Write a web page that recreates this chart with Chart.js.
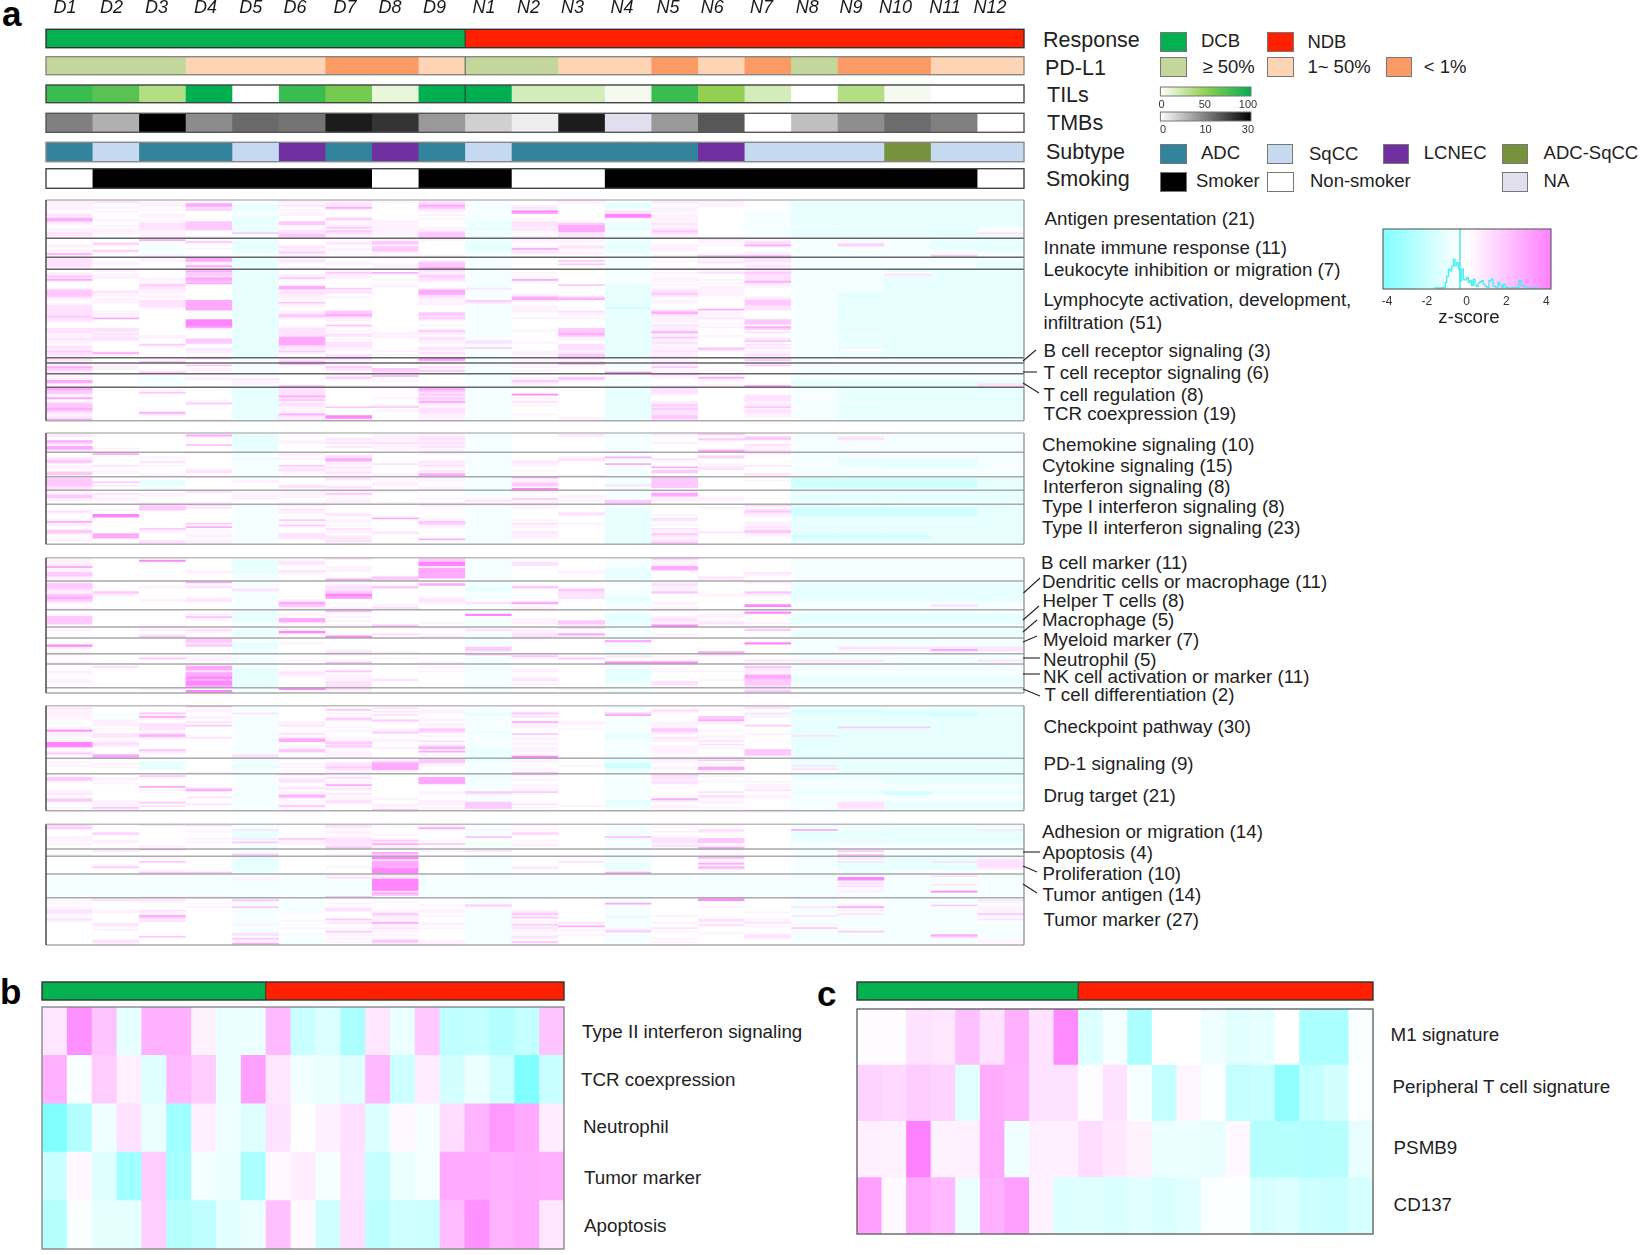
<!DOCTYPE html>
<html><head><meta charset="utf-8">
<style>
html,body{margin:0;padding:0;background:#fff;width:1640px;height:1255px;overflow:hidden}
#stage{position:relative;width:1640px;height:1255px;font-family:"Liberation Sans",Arial,sans-serif;color:#222}
#stage canvas{position:absolute}
.t{position:absolute;white-space:nowrap;transform:translateY(-50%);line-height:1}
.sw{position:absolute;box-sizing:border-box;border:1.5px solid #777}
svg{position:absolute;left:0;top:0;pointer-events:none}
</style>
<script src="https://cdn.jsdelivr.net/npm/chart.js@4"></script>
</head><body><div id="stage"></div>
<script>
// ---------- categories ----------
const sampleNames=["D1","D2","D3","D4","D5","D6","D7","D8","D9","N1","N2","N3","N4","N5","N6","N7","N8","N9","N10","N11","N12"];
const responseValues=["DCB","DCB","DCB","DCB","DCB","DCB","DCB","DCB","DCB","NDB","NDB","NDB","NDB","NDB","NDB","NDB","NDB","NDB","NDB","NDB","NDB"];
const pdl1Values=["high","high","high","mid","mid","mid","low","low","mid","high","high","mid","mid","low","mid","low","high","low","low","mid","mid"];
const tilValues=[80,70,35,100,0,80,60,10,100,100,20,20,5,80,50,20,0,35,5,0,0];
const tmbValues=[10,6.2,30,9,13.4,11.8,25.6,21.8,8,3.7,1.3,25.6,null,8,16.2,0,5,8.9,13,10,0];
const subtypeValues=["ADC","SqCC","ADC","ADC","SqCC","LCNEC","ADC","LCNEC","ADC","SqCC","ADC","ADC","ADC","ADC","LCNEC","SqCC","SqCC","SqCC","ADC-SqCC","SqCC","SqCC"];
const smokingValues=["Non","Smoker","Smoker","Smoker","Smoker","Smoker","Smoker","Non","Smoker","Smoker","Non","Non","Smoker","Smoker","Smoker","Smoker","Smoker","Smoker","Smoker","Smoker","Non"];

// ---------- panel a: z-score levels per gene row (D1..D9 N1..N12) ----------
const antigenPresentation=["2211a2202 a12a121aaaaa","1211a1112 a01a210bbbbb","1014a1203 a00b010bbbbb","1014b2104 a10b010bbbbb","1102b0403 a20b100bbbbb","1013b1102 a10a100bbbbb","0100a0001 a50210abbbbb","1000a1000 a40200abbbbb","2010a1001 a00510abbbbb","1010b0000 a00510abbbbb","4000b0301 a10110abbbbb","4110b0210 a00a10abbbbb","2013b3010 b21a10abbbbb","1023b3110 b23b20abbbbb","0123a1110 a24a10abbbbb","0023b0311 b14b10aabbba","1123b1111 b24b20abbbba","1110b2312 a14a30abbbba","211032213 b01a20abbbb2","2010a3113 a02a10abbbb1","1011a3103 b12b10abbbbb"];
const innateImmune=["0100a0111 a20a030aaaaa","0040a0011 a11a011aaabb","00a3b0130 b11b012aaabb","03a1b0230 b00b002a2abb","11a0b1010 b01b114a3abb","10a0b2030 b12b101aaabb","00a1b1130 b41b100aaabb","13a0b1130 b10b100aaaab","11a0b3010 a21b001aaaaa","40a0a1100 a11a001aaaaa","1011a1011 a00a133aaa3a"];
const leukocyteInhibition=["1014b1000 a00a013aaaaa","2014b1000 a00a012aaaaa","2014b2001 a03a112aaaaa","2101b1103 a00a021aaaab","2101b0113 a03a001aaaab","2004b0013 a00a002aaaab","1002b1014 a00a111aaaab"];
const lymphocyteActivation=["0102b0102 a00a102aabbb","0104b0102 a00a012aabbb","1003b0341 a10a123aaabb","2103b1102 a00a002aa2bb","3102b1103 a00a002aa1bb","2114b3102 a10a102aabbb","4014b1012 a40a112aabbb","1003b0001 a10a104aabbb","0014b0000 a00a012aabbb","0030b1010 a03b101aabbb","0020b4010 a00b011aabbb","1020b4301 200b110aabbb","3110b1104 a00b210aabbb","3210b2204 a00b210abbbb","3100b2104 a10b310abbbb","3110b1002 a10b210abbbb","2010b1102 a43b101abbbb","1100b1001 a44b002abbbb","0124b0001 310b103abbbb","0124b3001 200b103abbbb","1024b1001 a00b003abbbb","2024b1000 a10b002abbbb","2014b0000 a10c002abbbb","2004b0000 a10b142abbbb","2100b1300 a12b300abbbb","2100b1303 a01b410abbbb","2100b3403 a01b210abbbb","3000b3302 a00b110abbbb","2400b1103 a11b120abbbb","2005b0101 a00b103abbbb","1005b0000 a00b103abbbb","0005b0000 a00b013abbbb","0005b0301 a00b200abbbb","0004b1100 a00b114abbbb","2201b2000 a03b103abbbb","2200b2103 a13b200abbbb","2100b2012 a03b402abbbb","1200b2211 a04b100abbbb","1110b2210 a03b110aabbb","1210b4012 a01b301abbbb","2203b4102 a01b102abbbb","1103b4001 200b103abbbb","1003b4201 210b200abbbb","0030b4200 a02b102abbbb","2010b2201 a02b101abbbb","2001b2102 302b132a1bbb","1002b1102 a02b130a0bbb","3101b3010 a11b201abbbb","2401b1002 a12b101abbbb","2100b0211 a13b102aabbb","1001b1201 a03b201abbbb"];
const bCellReceptor=["1013a1305 a03a011aaaaa","2010a2104 a10a103aaaaa","1030a3101 a12a201aaaaa"];
const tCellReceptor=["1010a4000 a04a110aaaaa","1103a1101 a11a103aaaaa","4100a0302 a10a300aaaaa","3101a0231 a00a100aaaaa","2011a0133 a10a110aaaaa","1030a0021 a005100aaaaa"];
const tCellRegulation=["1001a0100 a00a310aaaaa","10a0a0140 a00a100aaaaa","10a1a0300 a13a140aaaaa","10a120100 a13a010aaaaa","40a010010 a31a010bbbbb","40a010000 a20a000bbbbb","10a010000 a00a010bbbb2","1000a3110 a10a114bbbb2"];
const tcrCoexpression=["4000b2014 a00b200abbbb","4000b2004 a00b200abbbb","3010b2003 a00b200abbbb","3030b2002 a00b200abbbb","1000b2003 a50b101abbbb","1000b4002 a00b002abbbb","4000b2013 a10b002abbbb","0000b3002 a00b002aabbb","1001b1004 a20b101abbbb","3003b2002 a00b201abbbb","3000b2011 a10b302abbbb","3000b1331 a00b203abbbb","4000b1002 a00b301abbbb","3000b1012 a00b202abbbb","2040b1002 a00b202abbbb","1020b4001 a10b201abbbb","1000b2501 a00b301abbbb","2000b1501 a01b300abbbb","4001b2101 a01b200abbbb"];
const chemokine=["1001b0001 a01a141aaaaa","1004b0011 a02a110aaaaa","1001b0012 a00a003a2aaa","0000b0212 a00a033a2aaa","4000b1111 a00a010aaaaa","3000b1222 a00a100aaaaa","1003b0011 a00a002aaaaa","4000b0212 a00a001aaaaa","4100b0011 a00a011aaaaa","1000b0001 a00a042aaaaa"];
const cytokine=["0003b0000 a00a003aaaaa","0400a1001 a00a001aaaaa","0000a1200 a00a020aaaaa","1010a0200 a014030aaaaa","2000b1400 a02a200abbba","3010a0401 a12a100abbba","3020a0102 a20a000abbba","0000a0121 a104010abbba","1210a3002 a10a002abbba","1000a1201 a00a420aabba","0001a2100 a00a020aaaaa","0102a2102 a10a300aaaaa","3102a1201 a00a300aaaaa","3010a0114 a00a002aaaaa","1010a0014 a02a001aaaaa"];
const interferon=["1001a0101 a40a300bbbbb","3000a0211 a10a300ccccb","30b010101 a10a301ccccb","33b010010 a20a300ccccb","30b000010 a30b300ccccb","32b002110 a302300ccccb","20a002201 a10a300ccccb","20a000101 a50a000bbbbb"];
const typeOneInterferon=["0011a1000 a20a100bbbbb","1002a1110 a10a200bbbbb","121011300 a00a400bbbbb","301011100 a01a400bbbbb","310011000 001a110bbbbb","110010101 130a110bbbbb","11a000100 2113110bbbbb","001101111 a103000bbbbb"];
const typeTwoInterferon=["0004a1000 a00a0023bbbb","0031a1001 110a002bbbbb","0032a0000 a10a010ccccb","0130a2000 a00b002ccccb","2000a1000 a00b003ccccb","1000a1100 a02b002ccccb","0500a0200 a02b101ccccb","0500a0000 a00b001bbbbb","0000a0041 a00b200bbbbb","1000a3101 a10b200bbbbb","4000a1103 a00b001bbbbb","1003a0003 a21b001bbbbb","1000a3101 a10b101bbbbb","0004a1001 a10b002bbbbb","0030a0200 a00b201bbbbb","3011a0100 a00b103bbbbb","3010a0120 a20b123bbbbb","1401a2010 a10b301bbbbb","0401a2100 a10b201cccbb","0401a2200 a10b100cccbb","1000a1104 a00b100bbbbb","1021a0201 a00b200bbbbb","0021a0100 a00b300bbbbb"];
const bCellMarker=["1000a0203 a00a300aaaaa","1050b1003 a00a100aaaaa","1000b2005 a20a100aaaaa","1000b1005 a20a100aaaaa","4000b0102 a00a400aaaaa","1000b0104 a00b400aaaaa","1001b2104 a01b100aaaaa","3001b1004 a01b002aaaaa","3000a0004 a00b001aaaaa","1000a0034 a00b020aaaaa","1000a0430 a00a010aaaaa"];
const dendriticMacrophage=["1004a0000 a00a102aaaaa","3000a0104 a00a200bbbbb","3012a0230 b30a100bbbbb","200020200 b03a100bbbbb","1300a0300 a02a303bbbbb","3100a0500 a02a011bbbbb","4001a0401 a02b000bbbbb","3012a1002 a00b000bbbbb","1000a4001 240a100aaaaa","0000a3010 a00a005aaa2a","1000a1120 a10a100aaaaa"];
const helperT=["0000a0400 a10a102aaaaa","0000b0100 a00a005aaaaa","1001b1000 500b010bbbbb","3003b0100 a00b110bbbbb","3001b4000 a10b200bbbbb","3000b4100 a13b210bbbbb","3000a1001 a13b121bbbbb","0010a0130 a01a500aaaaa"];
const macrophage=["0010a0001 a03a000aaaaa","1012a1000 210a003aaaaa","0001b5000 a10a000bbbbb","0010b1021 a24a100bbbbb","0030a0501 a21a000aaaaa"];
const myeloidMarker=["0003a0000 a00a000aaaaa","0003a0000 a004000aaaaa","0002b1000 a00a005aaaaa","5003b0000 a00a000aaaaa","1000b0000 300a000a2222","0000a0100 300a000a1142","1000a0210 a00a040aaaaa"];
const neutrophilRows=["1000a0100 320a020aaaaa","0001a0000 a302100aaaaa","0031a0010 a03a000aaaaa","0001a1000 a00a10222aa2","1000a0301 a005500aaaaa"];
const nkCell=["0001a0000 a00a000aaaaa","0204a0001 a00a003aaaaa","0004b0000 a10b002aaaaa","1002b1301 a10b111aaaaa","1004b2000 a00b001aaaaa","0004b1100 a00b004aaaaa","0005b0100 a10b004bbbbb","1004b0120 a20b013bbbbb","1005b0200 a00b203bbbbb","0005b0200 a10a203aaaaa","0004b0200 a00a002aaaaa"];
const tCellDifferentiation=["0010a5200 a01a001aaaaa","0005a0100 a00a003aaaaa"];
const checkpointPathway=["0004a0000 a10a012bbbbb","2000a0020 a00a002bbbbb","1001a0301 a00a210bbbbb","1001a0021 a10a200ccbbb","1a3020101 b303002bbccb","1a10a0020 b10400bbbbcb","1a41a0100 a20a031bbbbb","1011a0301 a00a030bbbbb","0100a0231 a00a040bbbbb","0102a1010 a41a110bbbbb","0120a1001 a11a110bbbbb","0123a2001 a10a103bbbbb","1020a0100 a10a100b33bb","1120a0013 a01a300bbbbb","5010a0113 a00a310bbbbb","1000a1032 b00a200bbbbb","1230a2010 a30b101bbbbb","1240a0001 a00b0102bbbb","0122a2100 a10b210bbbbb","1000a4010 a10a100bbbbb","1100a4212 a00a120bbbbb","5200a0300 a10a000bbbbb","5200a0201 a10a020bbbbb","5100a1303 a00a100bbbbb","1000a1114 a10a110bbbbb","0030a3001 b10a103bbbbb","1020a3104 b10a103bbbbb","3010a0100 b00a103bbbbb","140020101 a10a003bbbbb","040020100 b50a110bbbbb"];
const pd1Signaling=["1000a2003 b00b200bbbbb","0000b0013 b10b130bbbbb","10b0a0133 a10b100bbbbb","01b0a1241 a00c010bbbbb","10b0b0241 a01c0002bbbb","01b0b1340 a00c140bbbbb","00b0a0240 a10b1402bbbb","0000a1110 a00b010abbbb","0001a0100 a30a000abbbb"];
const drugTarget=["0000a3000 b30a300bbbbb","0030a0100 b00a210bbbbb","3100a1204 a00a200bbbbb","3100a2004 a10a100aabbb","1000a2104 a00a211aabbb","0100a0104 a00a200aabbb","0000a0400 a10a001aaaaa","0040a1000 a00a001aaaaa","0003a2200 a10a001aaaaa","1014a0100 a10a002aaaaa","1000a1001 330a020bbcbb","2000a1201 200a000bbcbb","0000a4000 a00a021aaaaa","0002a3100 a00a021aaaaa","3000a0110 a00a400aaaaa","3100a1201 a00b210aaaaa","0130a0201 300b010a2bbb","0102a1011 320b000a2bbb","0120a3010 301b100a2bbb","1300a1001 310a110a2bbb","0100a0031 a00a001aaaaa"];
const adhesionMigration=["3033a0200 a00a010aaaaa","2001a0211 a10a100bbbbb","3000a0104 a00a000aaaaa","100020001 110a0204abb2","0001b0100 a00a120bbbbb","0300b0100 a30a000bbbbb","0100b0010 a10a000bbbbb","1000b0100 3003100bbbbb","100123210 a00b230bbbbb","1100a1231 a10a230bbbbb","010131210 a00a230a1bbb","1000a1143 a10a100aaaaa","0010a0210 a10a210aaaaa","0010a0310 a00a040aaaaa"];
const apoptosisRows=["0040a0000 a00a030aaaaa","0200a0001 200a000a3aaa","0000a0040 a00a000a0aaa","100030130 a00a000a3aaa"];
const proliferation=["0000b0050 a00a040abbbb","0010b0050 a00a030a2bb1","0000b0020 a00a000abbb2","0030b0040 a02a010a2b22","0000b0040 a00b040abbb2","0100b0040 a00b010abbb2","0300b0140 a20b040abbb2","0000b0050 a10b020abbb1","0010b0050 a00a000aaaa0","0033a0050 a004000aaaaa"];
const tumorAntigen=["aaaaaaaaa aaaaaaaaaaaa","aaaaaa12a aaaaaaaaaa2a","aaaa1a22a aaaaaaaa5aaa","aaaa1aa5a aaaaaaaa5aaa","aaaaaaa5a aaaaaaaa1aaa","aaaaaaa5a aaaaaaaa2aaa","aaaaaaa5a aaaaaaaa1a2a","aaaaaaa5a aaaaaaaa2aaa","aaaaaaa5a aaaaaaaaaaaa","aaaaaaa5a aaaaaaaa1aaa","aaaaaaa2a aaaaaaaa1a5a","aaaaaaa4a aaaaaaaaaaaa","aaaaaaa3a aaaaaaaaaaaa","aa11aa3aa aaaaaaaaaaaa"];
const tumorMarkerRows=["0110b0000 a00a04010aaa","12203a000 a00a050a0aa2","00101a010 a00a000a0aa1","1001aa100 a004000aaaaa","0000aa001 300a000a1a3a","10013a100 100a01024a01","1000aa200 a00a000a1aa1","2120aa211 a10a000a1aa1","2110aa011 a20a001a0aa1","1010a0030 a30a000a2aa3","0040a0021 a10b1002aaa1","1030a0010 a301000aaaaa","2010a0310 a00a021aaaa2","1020a1110 a10a021aaaaa","0100a0241 a02a102aaaa0","02001a011 a30a0201aaaa","0100a0010 a14a011aaaaa","0000a1121 a20a2003aaaa","0100a0010 a112000aaaaa","0000a0310 a103100a3aaa","00002a100 a00a010aaaaa","00002a110 a11a002aaa4a","0030a0000 a20a002aaa3a","00003a110 a10a101aaaaa","02001a031 a00a000aaaa1","02001a131 a30a100aaaa1","01004a011 a10a000aaaa0"];

// ---------- panels b and c: z-scores ----------
const panelBLabels=["Type II interferon signaling","TCR coexpression","Neutrophil","Tumor marker","Apoptosis"];
const panelBType2=[.8,3.5,1.9,-.8,2.5,2.5,.4,-.6,-.6,2.2,-1.7,-1.1,-2.6,.8,-.6,1.7,-2,-1.9,-2.4,-1.9,1.9];
const panelBTcr=[2.5,-.2,1.6,.5,-1,2.2,1.6,-.6,3,.8,-.4,-.6,-1,2.2,-1.6,.6,-1.4,-.6,-1.5,-4,-1.7];
const panelBNeutrophil=[-4,-2.4,-.5,.9,-.6,-3,.5,-.5,-1,.9,0,.5,1,-1.1,.2,-.3,1.1,2.4,3.2,2.7,.6];
const panelBTumor=[-1.7,.2,-1,-3,1.6,-2.8,-.4,-.6,-2.6,.2,.6,-.3,.9,-1.9,-.6,-.3,2.7,2.7,2.5,2.6,2.5];
const panelBApoptosis=[-2.3,-.2,-.8,-.8,1.5,-2.3,-2,-.9,-.6,2,.2,-1.5,1,-2.1,-1.5,-1.6,2.1,3.5,2.4,2.7,.8];
const panelCLabels=["M1 signature","Peripheral T cell signature","PSMB9","CD137"];
const panelCM1=[.1,.1,.9,.8,2,.9,2.5,.9,3.7,-1.1,-.3,-2.6,0,0,-.5,-.9,-.8,0,-2.6,-2.6,-.2];
const panelCPeripheral=[1.4,1.2,1.6,1.4,-.9,2.6,2.4,.9,.9,.1,.9,-.3,-1.9,.3,-.1,-1.9,-1.7,-3.5,-1.9,-1.4,-.1];
const panelCPsmb9=[.5,.4,4,.4,.5,2.7,-.5,.5,.5,1.1,.7,.4,-.6,-.6,-.7,.2,-2.3,-2.3,-2.4,-2.3,-.7];
const panelCCd137=[3,.2,2.7,2.2,-.6,2.5,3,.4,-1.1,-1,-1.2,-.9,-1.2,-.9,-.1,-.1,-1.3,-1.1,-1.6,-1.7,-1.3];

// ---------- z-score key histogram ----------
const histZ=[-1.62,-1.32,-1.2,-1.09,-1.04,-.96,-.87,-.79,-.7,-.62,-.54,-.45,-.37,-.29,-.2,-.12,-.04,.05,.13,.21,.29,.38,.46,.54,.63,.71,.8,.88,.96,1.05,1.2,1.29,1.37,1.54,1.62,1.71,1.79,1.9,2,2.12,2.37,2.54,2.7,2.78,2.87,3.04,3.54,3.7];
const histCount=[3,3,4,5,20,38,60,55,70,90,70,80,60,25,60,30,28,35,20,25,10,30,12,8,18,22,25,15,8,5,25,30,8,5,20,12,6,14,5,3,4,5,25,10,8,3,3,3];
const zMarker=-0.335;
const zTicks=[-4,-2,0,2,4];
const tilTicks=[0,50,100];
const tmbTickLabels=["0","10","30"];

// ---------- styling and layout (separate from the data) ----------
const levelZ={c:-1.5,b:-.75,a:-.3,"0":0,"1":.4,"2":.9,"3":1.7,"4":2.7,"5":3.8};
const decode=rows=>rows.map(r=>{const s=[...r.replace(/ /g,"")];return sampleNames.map((_,i)=>levelZ[s[i]]??0);});
const hex2=v=>Math.round(Math.max(0,Math.min(255,v)));
function zColor(z){const t=Math.min(1,Math.abs(z)/4),g=hex2(255-127*t);return z>=0?`rgb(255,${g},255)`:`rgb(${g},255,255)`;}
const responseColor={DCB:"#05b050",NDB:"#ff2000"};
const pdl1Color={high:"#c4d79b",mid:"#fdd5b4",low:"#fc9a66"};
const subtypeColor={ADC:"#31849b","SqCC":"#c5d9f1",LCNEC:"#7030a0","ADC-SqCC":"#76923c"};
const smokingColor={Smoker:"#000",Non:"#fff"};
function mix(a,b,t){return `rgb(${a.map((v,i)=>hex2(v+(b[i]-v)*t)).join(",")})`;}
function tilColor(v){return v<=50?mix([255,255,255],[146,208,80],v/50):mix([146,208,80],[0,176,80],(v-50)/50);}
function tmbColor(v){if(v===null)return "#e1dfee";const g=v<=10?255-127.5*v/10:127.5*(1-(v-10)/20);return `rgb(${hex2(g)},${hex2(g)},${hex2(g)})`;}

const stage=document.getElementById("stage");
Chart.defaults.font.family='"Liberation Sans",Arial,sans-serif';
Chart.defaults.animation=false;
function addCanvas(x,y,w,h){const c=document.createElement("canvas");c.width=w;c.height=h;c.style.cssText=`left:${x}px;top:${y}px;width:${w}px;height:${h}px`;stage.appendChild(c);return c;}
const basePlugins={legend:{display:false},tooltip:{enabled:false},title:{display:false}};
const noAxisPad=s=>{s.paddingLeft=0;s.paddingRight=0;s.paddingTop=0;s.paddingBottom=0;};

function heat(x,y0,w,y1,matrix,colorFn,soft){
  const top=Math.round(y0),h=Math.max(1,Math.round(y1)-top),left=Math.round(x),wd=Math.round(w);
  const bleed=1.2*sampleNames.length/wd, rowH=h/matrix.length;
  const c=addCanvas(left,top,wd,h);
  if(soft)c.style.filter="blur(0.35px)";
  new Chart(c,{type:"bar",data:{labels:matrix.map((_,i)=>String(i)),datasets:sampleNames.map((n,col)=>({label:n,
      data:matrix.map(()=>[col,col+1+bleed]),backgroundColor:matrix.map(r=>colorFn(r[col])),borderWidth:0,
      barPercentage:(rowH+0.8)/rowH,categoryPercentage:1,grouped:false,order:-col}))},
    options:{indexAxis:"y",responsive:false,animation:false,events:[],layout:{padding:0},plugins:basePlugins,
      scales:{x:{type:"linear",min:0,max:sampleNames.length,display:false},y:{type:"category",display:false}}}});
}

// column labels drawn by a real axis
const labelPx=[65,111.4,156.5,205.6,250.7,295,345,390,434.4,484,528.6,572.4,622,668,712.3,761.4,807.2,851,895.4,945,990];
const MAIN_X=46,MAIN_W=978;
new Chart(addCanvas(MAIN_X,0,MAIN_W,24),{type:"bar",data:{labels:[],datasets:[]},options:{responsive:false,animation:false,events:[],layout:{padding:0},plugins:basePlugins,
  scales:{y:{display:false},x:{type:"linear",offset:false,position:"top",min:0,max:MAIN_W,grid:{display:false,drawTicks:false},border:{display:false},
    afterBuildTicks:s=>{s.ticks=labelPx.map(p=>({value:p-MAIN_X}));},
    afterFit:s=>{s.height=19;noAxisPad(s);},
    ticks:{autoSkip:false,maxRotation:0,padding:0,font:{size:18,style:"italic"},color:"#1a1a1a",callback:(v,i)=>sampleNames[i]}}}}});

// annotation tracks
const tracks=[[29.3,47.7,responseValues,v=>responseColor[v],"#333"],[56.7,74.7,pdl1Values,v=>pdl1Color[v],"#888"],[85,102.7,tilValues,tilColor,"#444"],[113.3,132.3,tmbValues,tmbColor,"#555"],[142.3,161.7,subtypeValues,v=>subtypeColor[v],"#888"],[168.7,188.3,smokingValues,v=>smokingColor[v],"#444"]];
tracks.forEach(t=>heat(MAIN_X,t[0],MAIN_W,t[1],[t[2]],t[3]));

// main heat map blocks
const blocks=[
 {edges:[200,238.3,257.3,269.3,357.7,363,373.7,387.3,420.7],sets:[antigenPresentation,innateImmune,leukocyteInhibition,lymphocyteActivation,bCellReceptor,tCellReceptor,tCellRegulation,tcrCoexpression],line:"#666"},
 {edges:[433,452.3,476.7,490.3,504.3,544.3],sets:[chemokine,cytokine,interferon,typeOneInterferon,typeTwoInterferon],line:"#aaa"},
 {edges:[557.7,581,609.7,627,638,653.7,664,687.7,693],sets:[bCellMarker,dendriticMacrophage,helperT,macrophage,myeloidMarker,neutrophilRows,nkCell,tCellDifferentiation],line:"#aaa"},
 {edges:[705.7,758.3,773.7,810.7],sets:[checkpointPathway,pd1Signaling,drugTarget],line:"#aaa"},
 {edges:[824.3,849,856.3,874,897.7,945],sets:[adhesionMigration,apoptosisRows,proliferation,tumorAntigen,tumorMarkerRows],line:"#aaa"}];
blocks.forEach(b=>b.sets.forEach((rows,i)=>heat(MAIN_X,b.edges[i],MAIN_W,b.edges[i+1],decode(rows),zColor,true)));

// panels b, c
const BX=42,BW=522,CX=857,CW=516;
heat(BX,982,BW,1000,[responseValues],v=>responseColor[v]);
heat(BX,1007,BW,1249,[panelBType2,panelBTcr,panelBNeutrophil,panelBTumor,panelBApoptosis],zColor);
heat(CX,982,CW,1000,[responseValues],v=>responseColor[v]);
heat(CX,1009,CW,1234,[panelCM1,panelCPeripheral,panelCPsmb9,panelCCd137],zColor);

// colour bars
function colorBar(ax0,ax1,ticks,labels,barL,barR,y,h,stops){
  const padL=12,padR=16,W=Math.round(barR-barL)+padL+padR,unit=(ax1-ax0)/(ticks[ticks.length-1]-ticks[0]);
  const min=ticks[0]-(ax0-barL)/unit,max=ticks[ticks.length-1]+(barR-ax1)/unit;
  new Chart(addCanvas(Math.round(barL)-padL,Math.round(y),W,Math.round(h)+15),{type:"bar",
    data:{labels:["k"],datasets:[{data:[[min,max]],borderWidth:0,barPercentage:1,categoryPercentage:1,
      backgroundColor:ctx=>{const a=ctx.chart.chartArea;if(!a)return "#fff";const g=ctx.chart.ctx.createLinearGradient(a.left,0,a.right,0);stops.forEach(s=>g.addColorStop(s[0],s[1]));return g;}}]},
    options:{indexAxis:"y",responsive:false,animation:false,events:[],layout:{padding:{left:padL,right:padR}},plugins:basePlugins,
      scales:{y:{display:false},x:{type:"linear",min,max,grid:{display:false,drawTicks:false},border:{display:false},
        afterBuildTicks:s=>{s.ticks=ticks.map(v=>({value:v}));},afterFit:s=>{s.height=15;noAxisPad(s);},
        ticks:{autoSkip:false,maxRotation:0,padding:2,font:{size:11},color:"#333",callback:(v,i)=>labels[i]}}}}});
}
colorBar(1162,1248,tilTicks,tilTicks.map(String),1160.4,1251,87,9,[[0,"#fff"],[.5,"#92d050"],[1,"#00b050"]]);
colorBar(1163.5,1248,[0,1,2],tmbTickLabels,1160.4,1251,112,9,[[0,"#fff"],[.5,"#808080"],[1,"#000"]]);

// z-score key
(function(){
  const L=1383,R=1551,T=229,B=289,padL=13,padR=13;
  const zmin=-4.2,zmax=4.24,ymax=182;
  new Chart(addCanvas(L-padL,T,R-L+padL+padR,B-T+22),{type:"scatter",data:{datasets:[
    {data:[{x:zmin,y:ymax},{x:zmax,y:ymax}],showLine:true,pointRadius:0,borderWidth:0,fill:"start",order:3,
     backgroundColor:ctx=>{const a=ctx.chart.chartArea;if(!a)return "#fff";const s=ctx.chart.scales.x,g=ctx.chart.ctx.createLinearGradient(s.getPixelForValue(zmin),0,s.getPixelForValue(zmax),0);
       const f=z=>(z-zmin)/(zmax-zmin);g.addColorStop(0,zColor(-4));g.addColorStop(f(-.35),"#fff");g.addColorStop(f(.1),"#fff");g.addColorStop(1,zColor(4));return g;}},
    {data:histZ.map((z,i)=>({x:z,y:histCount[i]})),showLine:true,stepped:"middle",pointRadius:0,borderColor:"#45f0f0",borderWidth:1.3,fill:false,order:1},
    {data:[{x:zMarker,y:0},{x:zMarker,y:ymax}],showLine:true,pointRadius:0,borderColor:"#45e8e8",borderWidth:1.5,fill:false,order:1}]},
    options:{responsive:false,animation:false,events:[],layout:{padding:{left:padL,right:padR}},plugins:basePlugins,
      scales:{y:{display:false,min:0,max:ymax},x:{type:"linear",min:zmin,max:zmax,grid:{display:false,drawTicks:false},border:{display:false},
        afterBuildTicks:s=>{s.ticks=zTicks.map(v=>({value:v}));},afterFit:s=>{s.height=22;noAxisPad(s);},
        ticks:{autoSkip:false,maxRotation:0,padding:5,font:{size:12},color:"#333"}}}}});
})();

// text
function text(str,x,y,size,extra){const d=document.createElement("div");d.className="t";d.textContent=str;d.style.left=x+"px";d.style.top=y+"px";d.style.fontSize=size+"px";if(extra)Object.assign(d.style,extra);stage.appendChild(d);}
const rowLabels=[["Antigen presentation (21)",1044.5,218.7],["Innate immune response (11)",1043.5,247.5],["Leukocyte inhibition or migration (7)",1043.5,270],["Lymphocyte activation, development,",1043.5,299.5],["infiltration (51)",1043.5,322.5],["B cell receptor signaling (3)",1043.5,350.5],["T cell receptor signaling (6)",1043.5,372.5],["T cell regulation (8)",1043.5,394.5],["TCR coexpression (19)",1043.5,413.5],["Chemokine signaling (10)",1042,444.5],["Cytokine signaling (15)",1042,465.5],["Interferon signaling (8)",1043,486.5],["Type I interferon signaling (8)",1042,506.7],["Type II interferon signaling (23)",1042,527.7],["B cell marker (11)",1041,562.5],["Dendritic cells or macrophage (11)",1042,581.5],["Helper T cells (8)",1042.5,601],["Macrophage (5)",1042,619.5],["Myeloid marker (7)",1043,639.5],["Neutrophil (5)",1043,659.5],["NK cell activation or marker (11)",1043,676.5],["T cell differentiation (2)",1044.5,694.5],["Checkpoint pathway (30)",1043.5,727],["PD-1 signaling (9)",1043.5,764],["Drug target (21)",1043.5,796],["Adhesion or migration (14)",1042,832],["Apoptosis (4)",1042.5,853],["Proliferation (10)",1042.5,874],["Tumor antigen (14)",1042.5,894.5],["Tumor marker (27)",1043.5,919.5]];
rowLabels.forEach(r=>text(r[0],r[1],r[2],18.75));
[["Response",1043,41],["PD-L1",1045,69],["TILs",1047,96],["TMBs",1047,124],["Subtype",1046,152.5],["Smoking",1046,180]].forEach(r=>text(r[0],r[1],r[2],21.5));
const legendItems=[[1160.4,32,responseColor.DCB,"DCB",1201,41],[1267.4,32,responseColor.NDB,"NDB",1307.4,42],
 [1160.4,57.3,pdl1Color.high,"≥ 50%",1202.4,67],[1267.4,57.3,pdl1Color.mid,"1~ 50%",1307.4,67],[1386,57.3,pdl1Color.low,"< 1%",1423.8,67],
 [1160.4,144,subtypeColor.ADC,"ADC",1201,153.3],[1266.6,144,subtypeColor.SqCC,"SqCC",1309,154],[1383,144,subtypeColor.LCNEC,"LCNEC",1423.8,153.3],[1501.6,144,subtypeColor["ADC-SqCC"],"ADC-SqCC",1543.6,153.3],
 [1160.4,172,smokingColor.Smoker,"Smoker",1196,181],[1267.4,172,smokingColor.Non,"Non-smoker",1310,181],[1501.6,172,"#e1dfee","NA",1543.6,181]];
legendItems.forEach(l=>{const s=document.createElement("div");s.className="sw";s.style.cssText+=`left:${l[0]}px;top:${l[1]}px;width:26.4px;height:20px;background:${l[2]}`;stage.appendChild(s);text(l[3],l[4],l[5],18.5);});
text("z-score",1469,317,18.7,{transform:"translate(-50%,-50%)"});
panelBLabels.forEach((s,i)=>text(s,[582,581,583,584,584][i],[1032,1080,1127,1178,1226][i],18.8));
panelCLabels.forEach((s,i)=>text(s,[1390.6,1392.6,1393.6,1393.6][i],[1035,1087,1148,1205][i],18.8));
[["a",2,13],["b",0,991],["c",817,993]].forEach(p=>text(p[0],p[1],p[2],35,{fontWeight:"bold",color:"#000"}));

// frames and leader lines
const NS="http://www.w3.org/2000/svg";
const svg=document.createElementNS(NS,"svg");svg.setAttribute("width",1640);svg.setAttribute("height",1255);stage.appendChild(svg);
function line(x1,y1,x2,y2,col,w){const l=document.createElementNS(NS,"line");[["x1",x1],["y1",y1],["x2",x2],["y2",y2],["stroke",col],["stroke-width",w]].forEach(a=>l.setAttribute(a[0],a[1]));svg.appendChild(l);}
function rect(x,y,w,h,col,sw){const r=document.createElementNS(NS,"rect");[["x",x],["y",y],["width",w],["height",h],["fill","none"],["stroke",col],["stroke-width",sw]].forEach(a=>r.setAttribute(a[0],a[1]));svg.appendChild(r);}
const RIGHT=MAIN_X+MAIN_W, SPLIT=MAIN_X+MAIN_W*9/21;
tracks.forEach(t=>rect(MAIN_X,t[0],MAIN_W,t[1]-t[0],t[4],1.4));
line(SPLIT,29,SPLIT,48,"#333",1);line(SPLIT,57,SPLIT,75,"#555",1);line(SPLIT,85,SPLIT,103,"#333",1);
blocks.forEach(b=>{const e=b.edges,last=e.length-1;
  e.slice(1,last).forEach(y=>line(MAIN_X,y,RIGHT,y,b.line,1.5));
  line(MAIN_X,e[0],RIGHT,e[0],"#bbb",1.5);line(MAIN_X,e[last],RIGHT,e[last],"#aaa",1.5);
  line(MAIN_X,e[0],MAIN_X,e[last],"#555",1.6);line(RIGHT,e[0],RIGHT,e[last],"#888",1.2);});
rect(BX,982,BW,18,"#333",1.4);rect(BX,1007,BW,242,"#888",1.4);line(BX+BW*9/21,982,BX+BW*9/21,1000,"#333",1);
rect(CX,982,CW,18,"#333",1.4);rect(CX,1009,CW,225,"#666",1.4);line(CX+CW*9/21,982,CX+CW*9/21,1000,"#333",1);
rect(1160.4,87,90.6,9,"#777",1);rect(1160.4,112,90.6,9,"#777",1);rect(1383,229,168,60,"#666",1.2);
[[1023,361,1036,350],[1023,372,1037,372],[1023,383,1039,393],[1023.5,593,1040,578],[1023,620,1039,606],[1023,632,1037,620],[1023,642,1037,636],[1023,658,1040,658],[1023,674,1040,674],[1023,689,1040,696],[1023,852,1040,852],[1023,866,1037,872],[1023,884,1037,893]].forEach(l=>line(l[0],l[1],l[2],l[3],"#222",1.1));
</script></body></html>
